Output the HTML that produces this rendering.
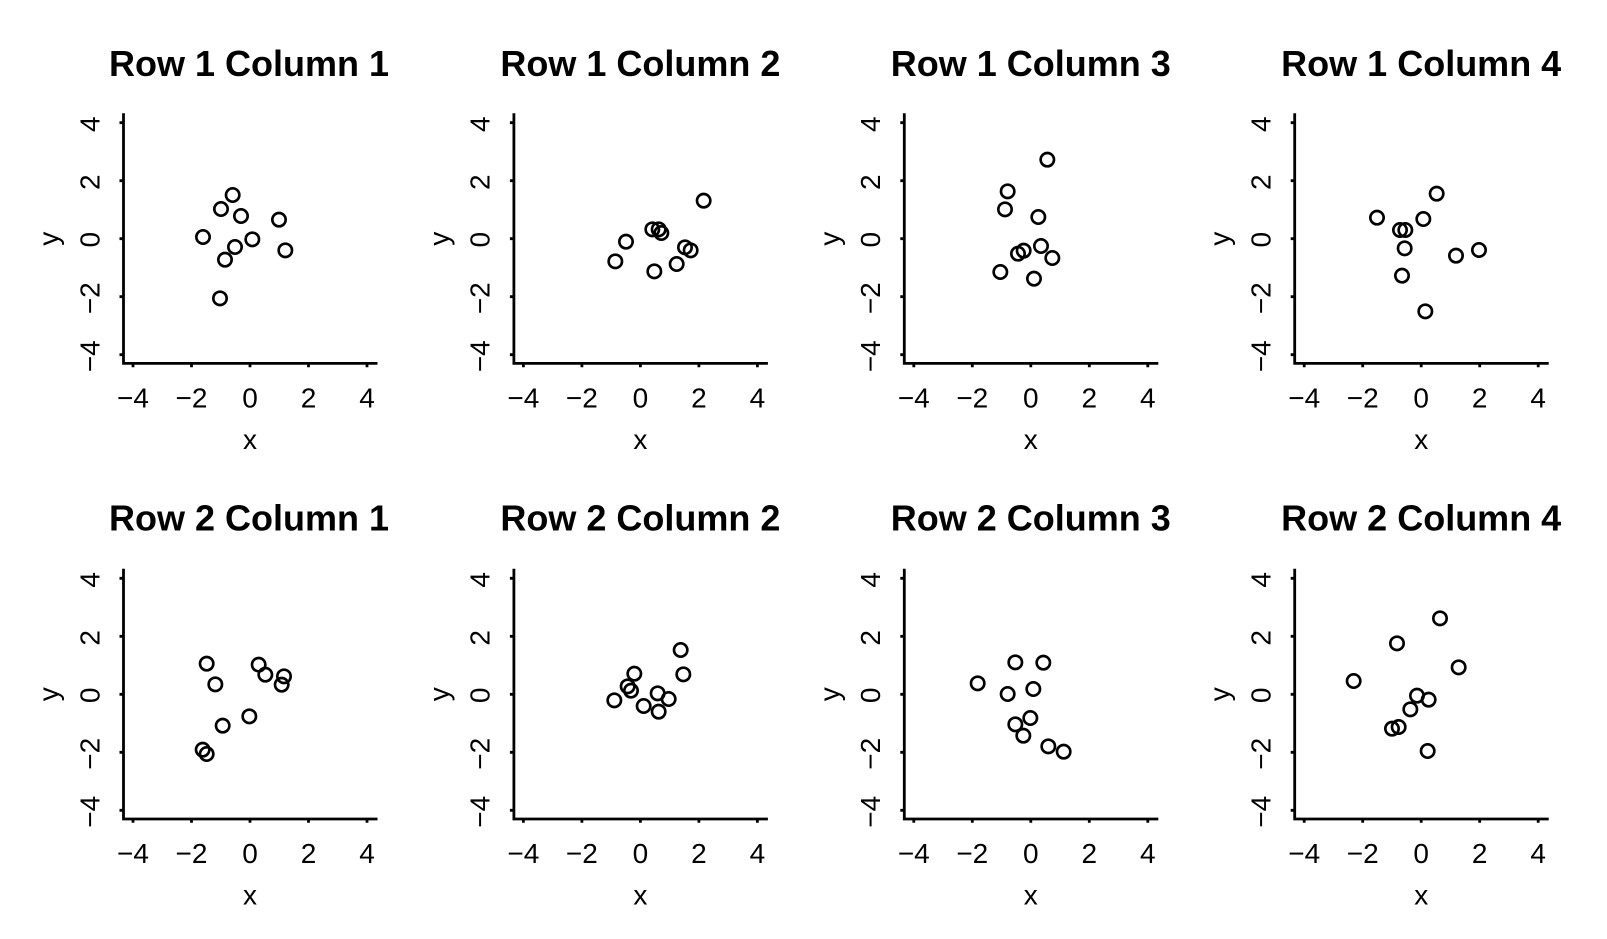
<!DOCTYPE html>
<html><head><meta charset="utf-8"><style>
html,body{margin:0;padding:0;background:#fff;width:1607px;height:939px;overflow:hidden}
svg{display:block}
text{font-family:"Liberation Sans",sans-serif;font-size:28px;fill:#000;text-anchor:middle}
text.t{font-weight:bold;font-size:36px}
.a{fill:none;stroke:#000;stroke-width:2.8}
.p circle{fill:none;stroke:#000;stroke-width:8;r:20px}
</style></head><body>
<svg xmlns="http://www.w3.org/2000/svg" width="1607" height="939" viewBox="0 0 1607 939">
<rect width="1607" height="939" fill="#fff"/>
<defs><path id="ax" class="a" d="M-126.5,-125.5V124.7H127.5M-130.5,-116H-126.5M-130.5,-58H-126.5M-130.5,0H-126.5M-130.5,58H-126.5M-130.5,116H-126.5M-117,124.7V128.5M-58.5,124.7V128.5M0,124.7V128.5M58.5,124.7V128.5M117,124.7V128.5"/></defs>

<g transform="translate(250,238.7)"><use href="#ax"/><text class="t" x="-1" y="-162.7">Row 1 Column 1</text><text x="-117" y="168.6">−4</text><text x="-58.5" y="168.6">−2</text><text y="168.6">0</text><text x="58.5" y="168.6">2</text><text x="117" y="168.6">4</text><text y="210.3">x</text><text transform="translate(-150.7,-114.5) rotate(-90)">4</text><text transform="translate(-150.7,-56.5) rotate(-90)">2</text><text transform="translate(-150.7,1) rotate(-90)">0</text><text transform="translate(-150.7,59.5) rotate(-90)">−2</text><text transform="translate(-150.7,117.5) rotate(-90)">−4</text><text transform="translate(-192,0) rotate(-90)">y</text></g>
<g transform="translate(640.4,238.7)"><use href="#ax"/><text class="t" y="-162.7">Row 1 Column 2</text><text x="-117" y="168.6">−4</text><text x="-58.5" y="168.6">−2</text><text y="168.6">0</text><text x="58.5" y="168.6">2</text><text x="117" y="168.6">4</text><text y="210.3">x</text><text transform="translate(-150.7,-114.5) rotate(-90)">4</text><text transform="translate(-150.7,-56.5) rotate(-90)">2</text><text transform="translate(-150.7,1) rotate(-90)">0</text><text transform="translate(-150.7,59.5) rotate(-90)">−2</text><text transform="translate(-150.7,117.5) rotate(-90)">−4</text><text transform="translate(-192,0) rotate(-90)">y</text></g>
<g transform="translate(1030.8,238.7)"><use href="#ax"/><text class="t" y="-162.7">Row 1 Column 3</text><text x="-117" y="168.6">−4</text><text x="-58.5" y="168.6">−2</text><text y="168.6">0</text><text x="58.5" y="168.6">2</text><text x="117" y="168.6">4</text><text y="210.3">x</text><text transform="translate(-150.7,-114.5) rotate(-90)">4</text><text transform="translate(-150.7,-56.5) rotate(-90)">2</text><text transform="translate(-150.7,1) rotate(-90)">0</text><text transform="translate(-150.7,59.5) rotate(-90)">−2</text><text transform="translate(-150.7,117.5) rotate(-90)">−4</text><text transform="translate(-192,0) rotate(-90)">y</text></g>
<g transform="translate(1421.2,238.7)"><use href="#ax"/><text class="t" y="-162.7">Row 1 Column 4</text><text x="-117" y="168.6">−4</text><text x="-58.5" y="168.6">−2</text><text y="168.6">0</text><text x="58.5" y="168.6">2</text><text x="117" y="168.6">4</text><text y="210.3">x</text><text transform="translate(-150.7,-114.5) rotate(-90)">4</text><text transform="translate(-150.7,-56.5) rotate(-90)">2</text><text transform="translate(-150.7,1) rotate(-90)">0</text><text transform="translate(-150.7,59.5) rotate(-90)">−2</text><text transform="translate(-150.7,117.5) rotate(-90)">−4</text><text transform="translate(-192,0) rotate(-90)">y</text></g>

<g transform="translate(250,694.3)"><use href="#ax"/><text class="t" x="-1" y="-163.6">Row 2 Column 1</text><text x="-117" y="168.6">−4</text><text x="-58.5" y="168.6">−2</text><text y="168.6">0</text><text x="58.5" y="168.6">2</text><text x="117" y="168.6">4</text><text y="210.3">x</text><text transform="translate(-150.7,-114.5) rotate(-90)">4</text><text transform="translate(-150.7,-56.5) rotate(-90)">2</text><text transform="translate(-150.7,1) rotate(-90)">0</text><text transform="translate(-150.7,59.5) rotate(-90)">−2</text><text transform="translate(-150.7,117.5) rotate(-90)">−4</text><text transform="translate(-192,0) rotate(-90)">y</text></g>
<g transform="translate(640.4,694.3)"><use href="#ax"/><text class="t" y="-163.6">Row 2 Column 2</text><text x="-117" y="168.6">−4</text><text x="-58.5" y="168.6">−2</text><text y="168.6">0</text><text x="58.5" y="168.6">2</text><text x="117" y="168.6">4</text><text y="210.3">x</text><text transform="translate(-150.7,-114.5) rotate(-90)">4</text><text transform="translate(-150.7,-56.5) rotate(-90)">2</text><text transform="translate(-150.7,1) rotate(-90)">0</text><text transform="translate(-150.7,59.5) rotate(-90)">−2</text><text transform="translate(-150.7,117.5) rotate(-90)">−4</text><text transform="translate(-192,0) rotate(-90)">y</text></g>
<g transform="translate(1030.8,694.3)"><use href="#ax"/><text class="t" y="-163.6">Row 2 Column 3</text><text x="-117" y="168.6">−4</text><text x="-58.5" y="168.6">−2</text><text y="168.6">0</text><text x="58.5" y="168.6">2</text><text x="117" y="168.6">4</text><text y="210.3">x</text><text transform="translate(-150.7,-114.5) rotate(-90)">4</text><text transform="translate(-150.7,-56.5) rotate(-90)">2</text><text transform="translate(-150.7,1) rotate(-90)">0</text><text transform="translate(-150.7,59.5) rotate(-90)">−2</text><text transform="translate(-150.7,117.5) rotate(-90)">−4</text><text transform="translate(-192,0) rotate(-90)">y</text></g>
<g transform="translate(1421.2,694.3)"><use href="#ax"/><text class="t" y="-163.6">Row 2 Column 4</text><text x="-117" y="168.6">−4</text><text x="-58.5" y="168.6">−2</text><text y="168.6">0</text><text x="58.5" y="168.6">2</text><text x="117" y="168.6">4</text><text y="210.3">x</text><text transform="translate(-150.7,-114.5) rotate(-90)">4</text><text transform="translate(-150.7,-56.5) rotate(-90)">2</text><text transform="translate(-150.7,1) rotate(-90)">0</text><text transform="translate(-150.7,59.5) rotate(-90)">−2</text><text transform="translate(-150.7,117.5) rotate(-90)">−4</text><text transform="translate(-192,0) rotate(-90)">y</text></g>

<g class="p" transform="scale(.33333)"><circle r="20" cx="609" cy="711"/><circle r="20" cx="663" cy="627"/><circle r="20" cx="698" cy="585"/><circle r="20" cx="723" cy="648"/><circle r="20" cx="837" cy="659"/><circle r="20" cx="757" cy="718"/><circle r="20" cx="705" cy="741"/><circle r="20" cx="675" cy="779"/><circle r="20" cx="856" cy="751"/><circle r="20" cx="660" cy="895"/></g>
<g class="p" transform="translate(440,100) scale(.33333)"><circle r="20" cx="526" cy="484"/><circle r="20" cx="558" cy="425"/><circle r="20" cx="637" cy="388"/><circle r="20" cx="656" cy="388"/><circle r="20" cx="664" cy="399"/><circle r="20" cx="735" cy="442"/><circle r="20" cx="752" cy="451"/><circle r="20" cx="710" cy="492"/><circle r="20" cx="643" cy="514"/><circle r="20" cx="791" cy="302"/></g>
<g class="p" transform="translate(830,100) scale(.33333)"><circle r="20" cx="652" cy="179"/><circle r="20" cx="533" cy="274"/><circle r="20" cx="525" cy="328"/><circle r="20" cx="625" cy="351"/><circle r="20" cx="633" cy="438"/><circle r="20" cx="581" cy="452"/><circle r="20" cx="564" cy="461"/><circle r="20" cx="667" cy="474"/><circle r="20" cx="511" cy="516"/><circle r="20" cx="612" cy="536"/></g>
<g class="p" transform="translate(1220,100) scale(.33333)"><circle r="20" cx="650" cy="281"/><circle r="20" cx="471" cy="353"/><circle r="20" cx="610" cy="357"/><circle r="20" cx="540" cy="390"/><circle r="20" cx="556" cy="390"/><circle r="20" cx="554" cy="445"/><circle r="20" cx="546" cy="527"/><circle r="20" cx="708" cy="467"/><circle r="20" cx="777" cy="450"/><circle r="20" cx="616" cy="634"/></g>
<g class="p" transform="translate(50,555) scale(.33333)"><circle r="20" cx="470" cy="326"/><circle r="20" cx="496" cy="388"/><circle r="20" cx="626" cy="329"/><circle r="20" cx="646" cy="359"/><circle r="20" cx="702" cy="364"/><circle r="20" cx="695" cy="389"/><circle r="20" cx="598" cy="484"/><circle r="20" cx="518" cy="512"/><circle r="20" cx="458" cy="584"/><circle r="20" cx="470" cy="597"/></g>
<g class="p" transform="translate(440,555) scale(.33333)"><circle r="20" cx="722" cy="285"/><circle r="20" cx="730" cy="358"/><circle r="20" cx="583" cy="356"/><circle r="20" cx="563" cy="394"/><circle r="20" cx="573" cy="407"/><circle r="20" cx="523" cy="436"/><circle r="20" cx="611" cy="453"/><circle r="20" cx="653" cy="415"/><circle r="20" cx="686" cy="432"/><circle r="20" cx="656" cy="470"/></g>
<g class="p" transform="translate(830,555) scale(.33333)"><circle r="20" cx="556" cy="322"/><circle r="20" cx="640" cy="323"/><circle r="20" cx="443" cy="385"/><circle r="20" cx="610" cy="402"/><circle r="20" cx="533" cy="417"/><circle r="20" cx="601" cy="489"/><circle r="20" cx="556" cy="508"/><circle r="20" cx="580" cy="542"/><circle r="20" cx="655" cy="574"/><circle r="20" cx="701" cy="590"/></g>
<g class="p" transform="translate(1200,480) scale(.33333)"><circle r="20" cx="461" cy="603"/><circle r="20" cx="591" cy="490"/><circle r="20" cx="720" cy="415"/><circle r="20" cx="776" cy="562"/><circle r="20" cx="651" cy="647"/><circle r="20" cx="686" cy="659"/><circle r="20" cx="631" cy="688"/><circle r="20" cx="576" cy="746"/><circle r="20" cx="596" cy="741"/><circle r="20" cx="683" cy="813"/></g>
</svg>
</body></html>
